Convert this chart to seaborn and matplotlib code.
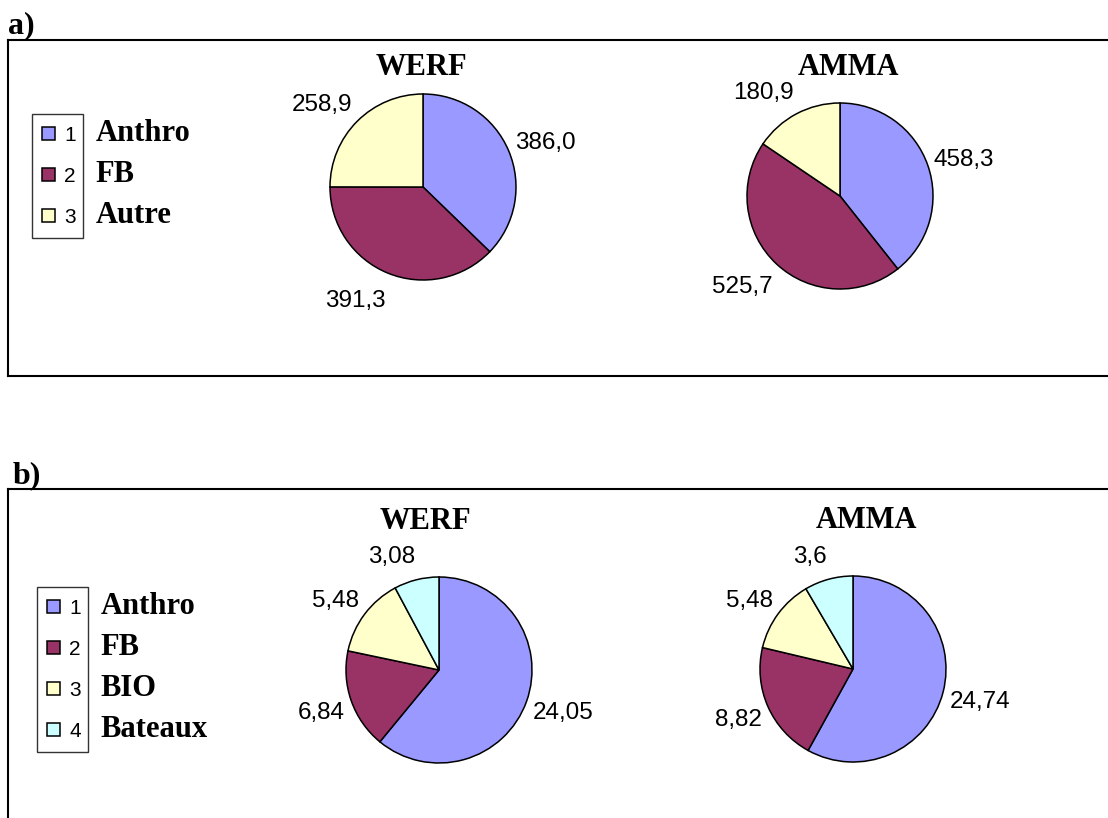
import math
import matplotlib
matplotlib.use("Agg")
import matplotlib.pyplot as plt
from matplotlib.patches import Rectangle
from matplotlib.transforms import offset_copy
import seaborn as sns

# values
groups = ["WERF", "AMMA"]
a_categories = ["Anthro", "FB", "Autre"]
a_werf = [386.0, 391.3, 258.9]
a_amma = [458.3, 525.7, 180.9]
b_categories = ["Anthro", "FB", "BIO", "Bateaux"]
b_werf = [24.05, 6.84, 5.48, 3.08]
b_amma = [24.74, 8.82, 5.48, 3.6]
slice_colors = ["#9999FF", "#993366", "#FFFFCC", "#CCFFFF"]

sns.set_theme(style="white")
plt.rcParams["font.family"] = ["Liberation Sans", "DejaVu Sans"]
plt.rcParams["text.color"] = "black"

W, H = 1108, 818
R = 93.0   # pie radius in pixels
K = 1.6    # half-width of pie axes in radius units

fig = plt.figure(figsize=(W / 100, H / 100), dpi=100)


def px_axes(x0, top, w, h):
    return fig.add_axes([x0 / W, 1 - (top + h) / H, w / W, h / H])


def panel_frame(top, height):
    ax = px_axes(8, top, 1300, height)
    ax.set_xticks([])
    ax.set_yticks([])
    ax.set_facecolor("none")
    for s in ax.spines.values():
        s.set_visible(True)
        s.set_color("black")
        s.set_linewidth(1.5)
    ax.set_zorder(0)
    return ax


def value_label(v):
    return str(v).replace(".", ",")


def draw_pie(values, cx, cy):
    half = R * K
    ax = px_axes(cx - half, cy - half, 2 * half, 2 * half)
    wedges, texts = ax.pie(
        values,
        labels=[value_label(v) for v in values],
        colors=slice_colors[:len(values)],
        startangle=90,
        counterclock=False,
        labeldistance=1.07,
        wedgeprops=dict(edgecolor="black", linewidth=1.1),
        textprops=dict(fontsize=17.5, family="Liberation Sans", color="black"),
    )
    # labels sit just outside the rim; push them further up/down the
    # closer the slice middle is to the vertical, like the spreadsheet did
    for t in texts:
        x, y = t.get_position()
        s = y / math.hypot(x, y)
        t.set_va("center")
        t.set_transform(offset_copy(ax.transData, fig=fig, x=0, y=20 * s - 3, units="dots"))
    ax.set_xlim(-K, K)
    ax.set_ylim(-K, K)
    ax.set_aspect("equal")
    ax.axis("off")
    ax.set_zorder(2)
    return wedges


def serif_text(x, y, s, size, **kw):
    fig.text(x / W, 1 - y / H, s, fontsize=size, fontweight="bold",
             family=["Liberation Serif", "DejaVu Serif"], **kw)


# ---- panel a)
panel_frame(40, 336)
serif_text(8, 33, "a)", 23, va="baseline", ha="left")
wa = draw_pie(a_werf, 423, 187)
draw_pie(a_amma, 840, 196)
serif_text(421, 75, groups[0], 22, va="baseline", ha="center")
serif_text(848, 75, groups[1], 22, va="baseline", ha="center")

# ---- panel b)
panel_frame(489, 420)
serif_text(13, 483, "b)", 23, va="baseline", ha="left")
wb = draw_pie(b_werf, 439, 670)
draw_pie(b_amma, 853, 669)
serif_text(425, 529, groups[0], 22, va="baseline", ha="center")
serif_text(866, 528, groups[1], 22, va="baseline", ha="center")


def numbered_legend(wedges, names, left, top):
    # no own frame: the box is drawn afterwards with uneven padding
    leg = fig.legend(
        wedges, [str(i + 1) for i in range(len(names))],
        loc="upper left", bbox_to_anchor=(left / W, 1 - top / H),
        borderaxespad=0, frameon=False, handlelength=0.62, handleheight=0.62,
        handletextpad=0.45, labelspacing=1.05, borderpad=0,
        prop=dict(family="Liberation Sans", size=15),
    )
    return leg


leg_a = numbered_legend(wa, a_categories, 42, 126)
leg_b = numbered_legend(wb, b_categories, 47, 599)

fig.canvas.draw()
for leg, names in ((leg_a, a_categories), (leg_b, b_categories)):
    bb = leg.get_window_extent()
    pad_l, pad_r, pad_t, pad_b = 10, 7, 12, 11
    x0, y0 = bb.x0 - pad_l, bb.y0 - pad_b
    w, h = bb.width + pad_l + pad_r, bb.height + pad_t + pad_b
    fig.add_artist(Rectangle((x0 / W, y0 / H), w / W, h / H, transform=fig.transFigure,
                             fill=False, edgecolor="#333333", linewidth=1.0))
    # category names to the right of the box, on the legend baselines
    for t, name in zip(leg.get_texts(), names):
        bx, by = t.get_transform().transform(t.get_position())
        fig.text((x0 + w + 13) / W, by / H, name, fontsize=22, fontweight="bold",
                 family=["Liberation Serif", "DejaVu Serif"], va="baseline", ha="left")

fig.savefig("out.png", dpi=100)
